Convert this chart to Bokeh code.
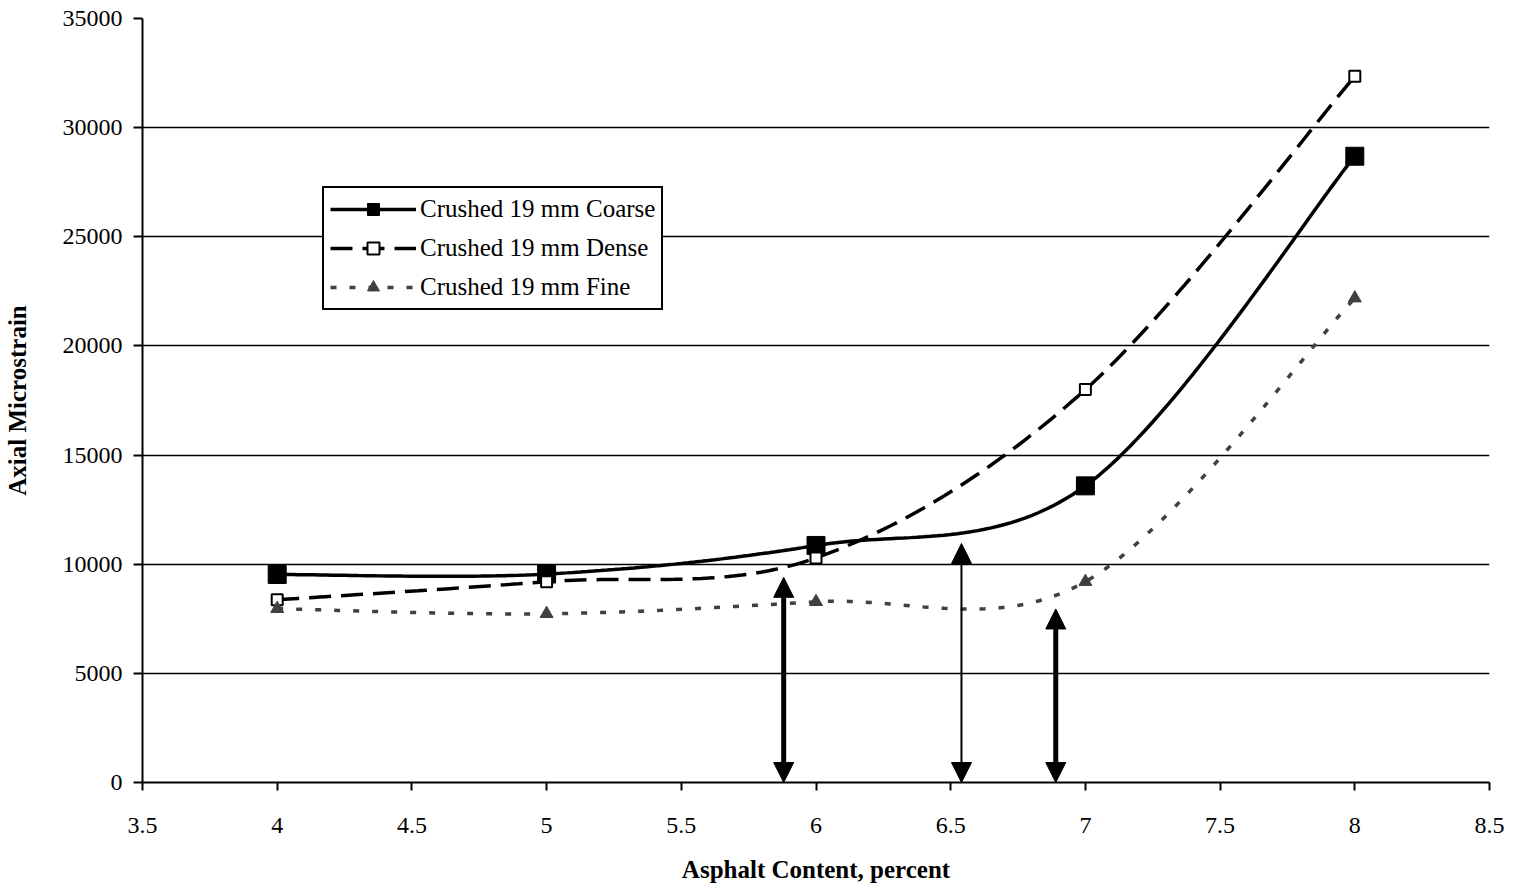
import numpy as np
from bokeh.plotting import figure
from bokeh.models import (Arrow, NormalHead, Legend, LegendItem, FixedTicker, Range1d)
from bokeh.embed import file_html
from bokeh.resources import INLINE

# ---------------- data ----------------
asphalt_content = [4, 5, 6, 7, 8]
coarse = [9530, 9550, 10860, 13590, 28690]
dense = [8370, 9200, 10290, 18000, 32350]
fine = [7960, 7730, 8280, 9200, 22190]
series_names = ["Crushed 19 mm Coarse", "Crushed 19 mm Dense", "Crushed 19 mm Fine"]

x_ticks = [3.5, 4, 4.5, 5, 5.5, 6, 6.5, 7, 7.5, 8, 8.5]
x_tick_labels = ["3.5", "4", "4.5", "5", "5.5", "6", "6.5", "7", "7.5", "8", "8.5"]
y_ticks = [0, 5000, 10000, 15000, 20000, 25000, 30000, 35000]
y_tick_labels = ["0", "5000", "10000", "15000", "20000", "25000", "30000", "35000"]

arrow_x = [5.88, 6.54, 6.89]
arrow_top = [9400, 10950, 7950]
arrow_bottom = [0, 0, 0]

x_title = "Asphalt Content, percent"
y_title = "Axial Microstrain"

# ---------------- styles ----------------
ARROW_WIDTHS = [5, 2, 5]
SERIF = "Liberation Serif"
FINE_COLOR = "#404040"


def smooth(xs, ys, n=40):
    """Excel-style smoothed line (Catmull-Rom Bezier) through the points."""
    P = np.column_stack([np.asarray(xs, float), np.asarray(ys, float)])
    Pe = np.vstack([P[0], P, P[-1]])
    segs = []
    for i in range(len(P) - 1):
        p0, p1, p2, p3 = Pe[i], Pe[i + 1], Pe[i + 2], Pe[i + 3]
        c1 = p1 + (p2 - p0) / 6.0
        c2 = p2 - (p3 - p1) / 6.0
        t = np.linspace(0, 1, n, endpoint=(i == len(P) - 2))[:, None]
        B = (1 - t) ** 3 * p1 + 3 * (1 - t) ** 2 * t * c1 + 3 * (1 - t) * t ** 2 * c2 + t ** 3 * p2
        segs.append(B)
    B = np.vstack(segs)
    return B[:, 0], B[:, 1]


p = figure(width=1507, height=885, output_backend="svg", toolbar_location=None,
           x_range=Range1d(3.5, 8.5), y_range=Range1d(0, 35000),
           min_border_left=142, min_border_right=18, min_border_top=18, min_border_bottom=102)
p.outline_line_color = None
p.background_fill_color = "white"
p.border_fill_color = "white"

# grid
p.xgrid.visible = False
p.ygrid.ticker = FixedTicker(ticks=y_ticks)
p.ygrid.grid_line_color = "black"
p.ygrid.grid_line_width = 1.5

# axes
for ax in (p.xaxis[0], p.yaxis[0]):
    ax.axis_line_color = "black"
    ax.axis_line_width = 2
    ax.major_tick_line_color = "black"
    ax.major_tick_line_width = 2
    ax.major_tick_in = 0
    ax.minor_tick_line_color = None
    ax.major_label_text_font = SERIF
    ax.major_label_text_font_size = "24px"
    ax.major_label_text_color = "black"
    ax.axis_label_text_font = SERIF
    ax.axis_label_text_font_size = "25px"
    ax.axis_label_text_font_style = "bold"
    ax.axis_label_text_color = "black"

p.xaxis.ticker = FixedTicker(ticks=x_ticks)
p.xaxis.major_label_overrides = dict(zip(x_ticks, x_tick_labels))
p.xaxis.major_tick_out = 8
p.xaxis.major_label_standoff = 27
p.xaxis.axis_label = x_title
p.xaxis.axis_label_standoff = 20

p.yaxis.ticker = FixedTicker(ticks=y_ticks)
p.yaxis.major_label_overrides = dict(zip(y_ticks, y_tick_labels))
p.yaxis.major_tick_out = 9
p.yaxis.major_label_standoff = 11
p.yaxis.axis_label = y_title
p.yaxis.axis_label_standoff = 29

# series
cx, cy = smooth(asphalt_content, coarse)
dx, dy = smooth(asphalt_content, dense)
fx, fy = smooth(asphalt_content, fine)

l1 = p.line(cx, cy, line_color="black", line_width=3.5)
m1 = p.scatter(asphalt_content, coarse, marker="square", size=18,
               fill_color="black", line_color="black")
l2 = p.line(dx, dy, line_color="black", line_width=3.5, line_dash="22 10")
m2 = p.scatter(asphalt_content, dense, marker="square", size=11,
               fill_color="white", line_color="black", line_width=2)
l3 = p.line(fx, fy, line_color=FINE_COLOR, line_width=3.5, line_dash="6 13")
m3 = p.scatter(asphalt_content, fine, marker="triangle", size=13,
               fill_color=FINE_COLOR, line_color=FINE_COLOR)

# arrows
for xa, yt, yb, lw in zip(arrow_x, arrow_top, arrow_bottom, ARROW_WIDTHS):
    p.add_layout(Arrow(
        start=NormalHead(size=20, fill_color="black", line_color="black", line_width=1),
        end=NormalHead(size=20, fill_color="black", line_color="black", line_width=1),
        x_start=xa, y_start=yb, x_end=xa, y_end=yt,
        line_color="black", line_width=lw))

legend = Legend(items=[
    LegendItem(label=series_names[0], renderers=[l1, m1]),
    LegendItem(label=series_names[1], renderers=[l2, m2]),
    LegendItem(label=series_names[2], renderers=[l3, m3]),
], location=(180, 472))
legend.border_line_color = "black"
legend.border_line_width = 2
legend.border_line_alpha = 1
legend.background_fill_color = "white"
legend.background_fill_alpha = 1
legend.label_text_font = SERIF
legend.label_text_font_size = "25px"
legend.label_text_color = "black"
legend.glyph_width = 86
legend.glyph_height = 30
legend.label_height = 30
legend.label_standoff = 4
legend.spacing = 9
legend.padding = 6
legend.margin = 0
p.add_layout(legend, "center")

open("out.html", "w").write(file_html(p, INLINE))
